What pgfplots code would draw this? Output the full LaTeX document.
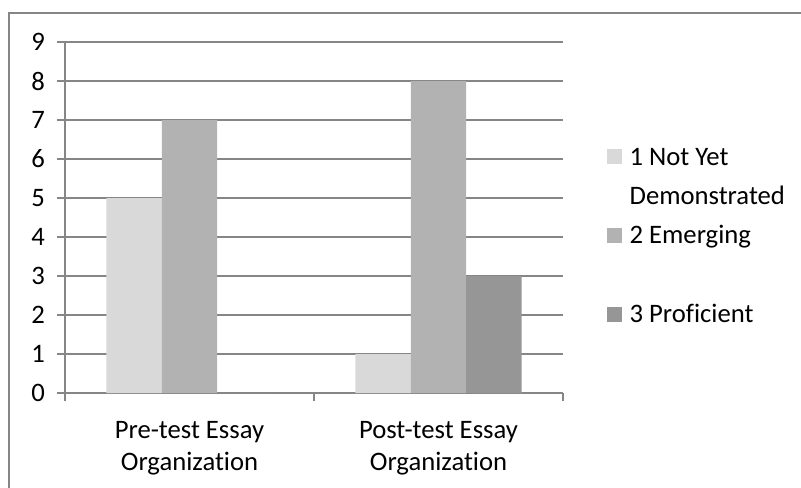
\documentclass[border=0pt]{standalone}
\usepackage{pgfplots}
\pgfplotsset{compat=1.18}
\usepackage{fontspec}
\setmainfont{Carlito}[Ligatures=NoCommon]

\definecolor{frameGray}{RGB}{134,134,134}
\definecolor{gridGray}{RGB}{134,134,134}
\definecolor{barA}{RGB}{217,217,217}
\definecolor{barB}{RGB}{178,178,178}
\definecolor{barC}{RGB}{150,150,150}

\begin{document}
\begin{tikzpicture}
\useasboundingbox (0pt,0pt) rectangle (600.75pt,365.25pt);
\begin{scope}
  \clip (0pt,0pt) rectangle (600.75pt,365.25pt);
  \draw[frameGray, line width=1.5pt] (7.1pt,-10pt) -- (7.1pt,355.5pt) -- (620pt,355.5pt);
\end{scope}
\begin{axis}[
  at={(48.75pt,70.5pt)}, anchor=south west,
  scale only axis,
  width=373.5pt, height=263.25pt,
  xmin=-0.5, xmax=1.5,
  ymin=0, ymax=9,
  ytick={0,1,...,9},
  xtick={0,1},
  xticklabels={Pre-test Essay\\Organization, Post-test Essay\\Organization},
  x tick style={draw=none},
  extra x ticks={-0.5,0.5,1.5},
  extra x tick labels={},
  extra x tick style={x tick style={draw=gridGray, line width=1pt}, grid=none},
  tick align=outside,
  y tick style={draw=gridGray, line width=1pt},
  major tick length=6pt,
  ymajorgrids,
  major grid style={draw=gridGray, line width=1pt},
  axis x line*=bottom,
  axis y line*=left,
  axis line style={draw=gridGray, line width=1pt, -},
  ybar, bar width=41.6pt,
  /pgf/number format/assume math mode=true,
  tick label style={font=\fontsize{20}{24}\selectfont},
  xticklabel style={align=center, yshift=-11.5pt},
  yticklabel style={xshift=-5.5pt},
  legend style={
    at={(1.0884,0.711)}, anchor=north west,
    draw=none, fill=none,
    font=\fontsize{20}{24}\selectfont,
    row sep=10pt, column sep=3.5pt,
    inner sep=0pt,
    cells={anchor=west, text height=14pt, text depth=6pt, inner sep=0pt},
  },
  legend image code/.code={%
    \fill[#1] (0pt,-5.625pt) rectangle (11.25pt,5.625pt);
  },
]
\addplot[draw=none, fill=barA, bar shift=-41.6pt] coordinates {(0,5) (1,1)};
\addlegendentry{1 Not Yet}
\addlegendimage{empty legend}
\addlegendentry{Demonstrated}
\addplot[draw=none, fill=barB, bar shift=0pt] coordinates {(0,7) (1,8)};
\addlegendentry{2 Emerging}
\addlegendimage{empty legend}
\addlegendentry{}
\addplot[draw=none, fill=barC, bar shift=41.6pt] coordinates {(0,0) (1,3)};
\addlegendentry{3 Proficient}
\end{axis}
\end{tikzpicture}
\end{document}
